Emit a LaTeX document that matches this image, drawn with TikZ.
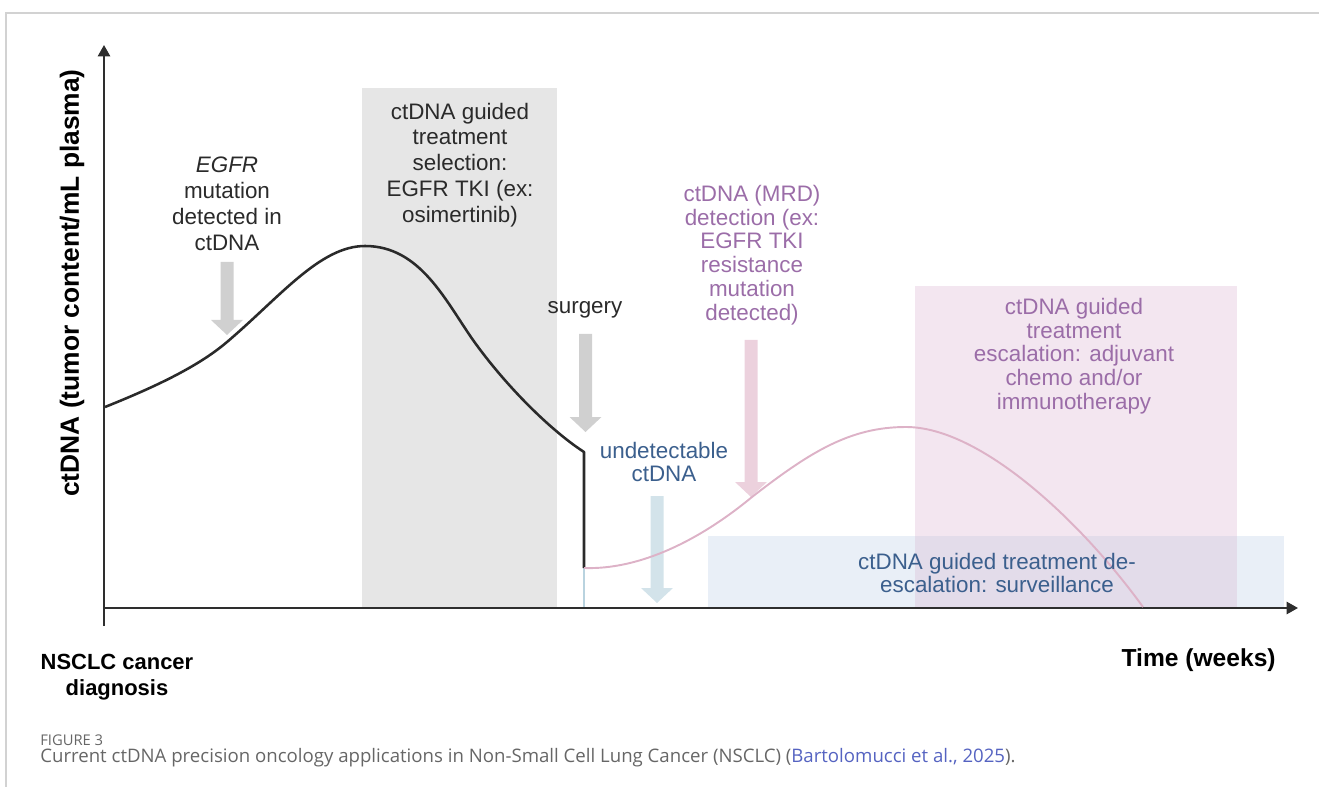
\documentclass[tikz,border=0pt]{standalone}
\usepackage{fontspec}
\setmainfont{Liberation Sans}
\newfontfamily\capfont{Open Sans}
\usetikzlibrary{arrows.meta}

\definecolor{framegray}{HTML}{D2D2D2}
\definecolor{axisgray}{HTML}{2E2E2E}
\definecolor{inkgray}{HTML}{2A2A2A}
\definecolor{boxgray}{HTML}{E6E6E6}
\definecolor{boxpink}{HTML}{F3E6F0}
\definecolor{boxblue}{HTML}{E9EFF7}
\definecolor{boxmix}{HTML}{E3DCEA}
\definecolor{arrgray}{HTML}{D0D0D0}
\definecolor{arrpink}{HTML}{ECD1DD}
\definecolor{arrblue}{HTML}{D3E3EA}
\definecolor{linkblue}{HTML}{B9D3DF}
\definecolor{curvepink}{HTML}{DDB2C7}
\definecolor{txtpurple}{HTML}{9B6DA8}
\definecolor{txtblue}{HTML}{3B5F8D}
\definecolor{capgray}{HTML}{666666}
\definecolor{citeblue}{HTML}{5563C1}

% block arrow pointing down: x, y of shaft top, y of tip, colour
\newcommand\blockarrow[4]{%
  \fill[#4] (#1-6.5,#2) -- (#1+6.5,#2) -- (#1+6.5,#3-15) -- (#1+16,#3-15)
    -- (#1,#3) -- (#1-16,#3-15) -- (#1-6.5,#3-15) -- cycle;}

\tikzset{
  lbl/.style={align=center, inner sep=0pt, text=inkgray,
    font=\fontsize{12.75}{14.74}\selectfont},
  lbltight/.style={lbl, font=\fontsize{12.75}{13.5}\selectfont},
  axislbl/.style={inner sep=0pt, text=black, font=\bfseries\fontsize{15}{17}\selectfont},
  axisline/.style={draw=axisgray, line width=1.15pt},
}

\begin{document}
\begin{tikzpicture}[x=0.02cm, y=-0.02cm]
\useasboundingbox (0,0) rectangle (1319,787);

% page frame
\draw[framegray, line width=0.9pt] (6,787) -- (6,13) -- (1319,13);

% shaded treatment windows
\fill[boxgray] (362,88) rectangle (557,608);
\fill[boxblue] (708,536) rectangle (1284,608);
\fill[boxpink] (915,286) rectangle (1237,536);
\fill[boxmix]  (915,536) rectangle (1237,608);

% pointer arrows
\blockarrow{227}{262}{335}{arrgray}
\blockarrow{585.5}{334}{432}{arrgray}
\blockarrow{751}{340}{497}{arrpink}
\blockarrow{657}{496}{603}{arrblue}

% undetectable segment after surgery
\draw[linkblue, line width=1pt] (584,568) -- (584,608);

% axes
\coordinate (origin) at (104,608);
\coordinate (ytop) at (104,45);
\coordinate (ybot) at (104,626);
\coordinate (xend) at (1298,608);
\draw[axisline, -{Triangle[width=7pt,length=6.5pt]}] (ybot) -- (ytop);
\draw[axisline, -{Triangle[width=7pt,length=6.5pt]}] (origin) -- (xend);

% tumour ctDNA level before and at surgery
\draw[inkgray, line width=1.45pt, line join=round]
  (105,407) .. controls (160,385) and (200,365) .. (227,342)
            .. controls (280,297) and (320,246) .. (365,246)
            .. controls (420,246) and (445,300) .. (473,340)
            .. controls (505,385) and (550,430) .. (584,452)
  -- (584,568);

% recurrence curve after surgery
\draw[curvepink, line width=1.1pt]
  (584,568) .. controls (640,570) and (700,540) .. (752,497)
            .. controls (810,452) and (850,427) .. (906,427)
            .. controls (980,427) and (1080,520) .. (1143,607);

% labels
\node[lbl] (egfr) at (227,204) {\textit{EGFR}\\mutation\\detected in\\ctDNA};
\node[lbl] (select) at (460,165) {ctDNA guided\\treatment\\selection:\\EGFR TKI (ex:\\osimertinib)};
\node[lbl] (surgery) at (585,310) {surgery};
\node[lbltight, text=txtpurple] (mrd) at (752,255)
  {ctDNA (MRD)\\detection (ex:\\EGFR TKI\\resistance\\mutation\\detected)};
\node[lbltight, text=txtblue] (undet) at (664,462) {undetectable\\ctDNA};
\node[lbltight, text=txtpurple] (escal) at (1074,356)
  {ctDNA guided\\treatment\\escalation: adjuvant\\chemo and/or\\immunotherapy};
\node[lbl, text=txtblue, font=\fontsize{12.75}{13.2}\selectfont] (deesc) at (997,573)
  {ctDNA guided treatment de-\\escalation: surveillance};

\node[axislbl, rotate=90] (ylabel) at (72,283) {ctDNA (tumor content/mL plasma)};
\node[axislbl, align=center, font=\bfseries\fontsize{12.5}{14.74}\selectfont] (diag) at (117,677)
  {NSCLC cancer\\diagnosis};
\node[axislbl, anchor=east, font=\bfseries\fontsize{14}{16}\selectfont] (time) at (1276,660) {Time (weeks)};

% caption
\node[anchor=west, inner sep=0pt, text=capgray, font=\capfont\fontsize{8.4}{10}\selectfont] (fig) at (40,740) {FIGURE 3};
\node[anchor=west, inner sep=0pt, text=capgray, font=\capfont\fontsize{10.6}{12}\selectfont] (cap) at (40,758)
  {Current ctDNA precision oncology applications in Non-Small Cell Lung Cancer (NSCLC) (\textcolor{citeblue}{Bartolomucci et al., 2025}).};
\end{tikzpicture}
\end{document}
